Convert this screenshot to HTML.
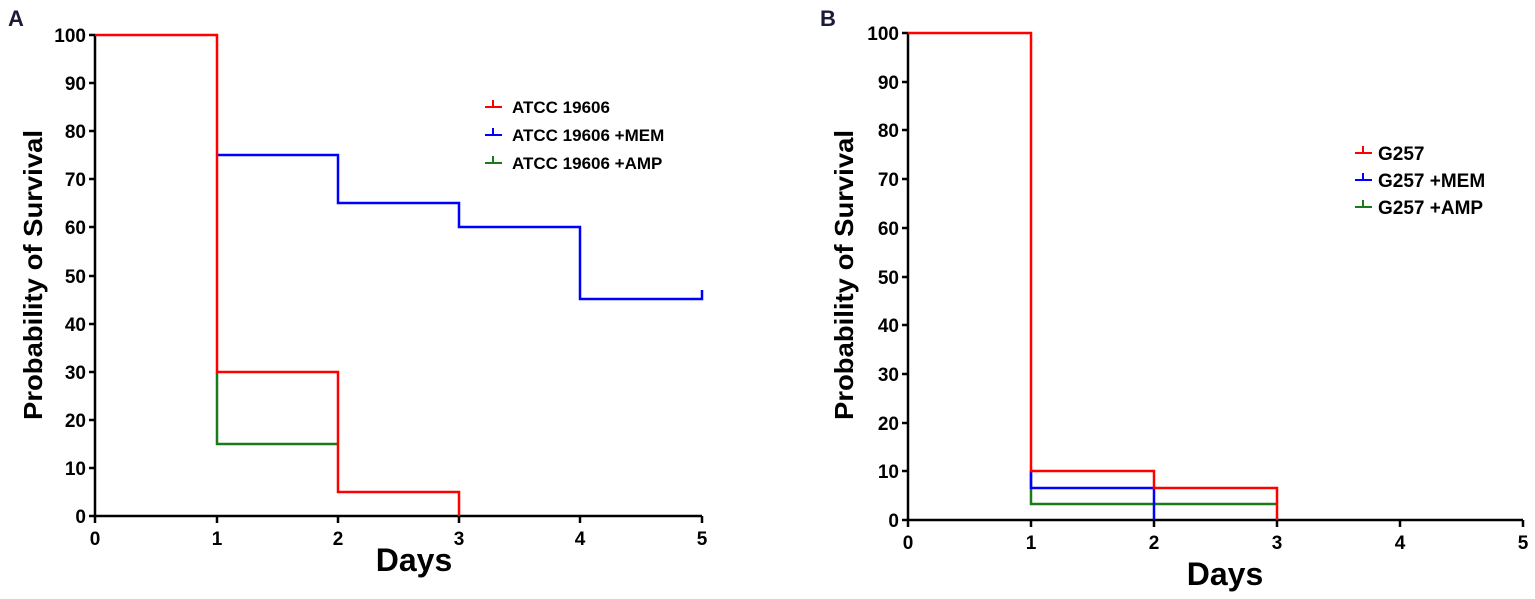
<!DOCTYPE html>
<html><head><meta charset="utf-8"><style>
html,body{margin:0;padding:0;background:#fff;}
svg{display:block;font-family:"Liberation Sans",Arial,sans-serif;font-weight:bold;}
</style></head><body>
<svg width="1535" height="599" viewBox="0 0 1535 599" xmlns="http://www.w3.org/2000/svg">
<!-- Panel A -->
<text x="8" y="26" font-size="22" fill="#1a1a3a">A</text>
<g stroke="#000" stroke-width="2.5" fill="none">
<path d="M95,35 V516 H702"/>
<path d="M89,35H95M89,83H95M89,131H95M89,179H95M89,227H95M89,276H95M89,324H95M89,372H95M89,420H95M89,468H95M89,516H95"/>
<path d="M95,516V523M217,516V523M338,516V523M459,516V523M580,516V523M702,516V523"/>
</g>
<g font-size="19" text-anchor="end" fill="#000">
<text x="86" y="42">100</text><text x="86" y="90">90</text><text x="86" y="138">80</text><text x="86" y="186">70</text><text x="86" y="234">60</text><text x="86" y="283">50</text><text x="86" y="331">40</text><text x="86" y="379">30</text><text x="86" y="427">20</text><text x="86" y="475">10</text><text x="86" y="523">0</text>
</g>
<g font-size="19" text-anchor="middle" fill="#000">
<text x="95" y="545">0</text><text x="217" y="545">1</text><text x="338" y="545">2</text><text x="459" y="545">3</text><text x="580" y="545">4</text><text x="702" y="545">5</text>
</g>
<text x="414" y="571" font-size="32" text-anchor="middle" fill="#000">Days</text>
<text transform="translate(42,275) rotate(-90)" font-size="26" text-anchor="middle" fill="#000" textLength="290" lengthAdjust="spacingAndGlyphs">Probability of Survival</text>
<g fill="none" stroke-width="2.5">
<path d="M217,372V444H338" stroke="#1a7a1a"/>
<path d="M217,155H338V203H459V227H580V299H702V290" stroke="#0000ff"/>
<path d="M95,35H217V372H338V492H459V516" stroke="#ff0000"/>
</g>
<g stroke-width="2" fill="none">
<path d="M485,107H502M493,107V100" stroke="#ff0000"/>
<path d="M485,135H502M493,135V128" stroke="#0000ff"/>
<path d="M485,163H502M493,163V156" stroke="#1a7a1a"/>
</g>
<g font-size="17" fill="#000">
<text x="512" y="113">ATCC 19606</text><text x="512" y="141">ATCC 19606 +MEM</text><text x="512" y="169">ATCC 19606 +AMP</text>
</g>
<!-- Panel B -->
<text x="820" y="26" font-size="22" fill="#1a1a3a">B</text>
<g stroke="#000" stroke-width="2.5" fill="none">
<path d="M908,33 V520 H1523"/>
<path d="M902,33H908M902,82H908M902,130H908M902,179H908M902,228H908M902,277H908M902,325H908M902,374H908M902,423H908M902,471H908M902,520H908"/>
<path d="M908,520V527M1031,520V527M1154,520V527M1277,520V527M1400,520V527M1523,520V527"/>
</g>
<g font-size="19" text-anchor="end" fill="#000">
<text x="899" y="40">100</text><text x="899" y="89">90</text><text x="899" y="137">80</text><text x="899" y="186">70</text><text x="899" y="235">60</text><text x="899" y="284">50</text><text x="899" y="332">40</text><text x="899" y="381">30</text><text x="899" y="430">20</text><text x="899" y="478">10</text><text x="899" y="527">0</text>
</g>
<g font-size="19" text-anchor="middle" fill="#000">
<text x="908" y="549">0</text><text x="1031" y="549">1</text><text x="1154" y="549">2</text><text x="1277" y="549">3</text><text x="1400" y="549">4</text><text x="1523" y="549">5</text>
</g>
<text x="1225" y="585" font-size="32" text-anchor="middle" fill="#000">Days</text>
<text transform="translate(853,275) rotate(-90)" font-size="26" text-anchor="middle" fill="#000" textLength="290" lengthAdjust="spacingAndGlyphs">Probability of Survival</text>
<g fill="none" stroke-width="2.5">
<path d="M1031,471V504H1277" stroke="#1a7a1a"/>
<path d="M1031,471V488H1154V520" stroke="#0000ff"/>
<path d="M908,33H1031V471H1154V488H1277V520" stroke="#ff0000"/>
</g>
<g stroke-width="2" fill="none">
<path d="M1355,153H1372M1363,153V146" stroke="#ff0000"/>
<path d="M1355,180H1372M1363,180V173" stroke="#0000ff"/>
<path d="M1355,207H1372M1363,207V200" stroke="#1a7a1a"/>
</g>
<g font-size="19" fill="#000">
<text x="1378" y="160">G257</text><text x="1378" y="187">G257 +MEM</text><text x="1378" y="214">G257 +AMP</text>
</g>
</svg>
</body></html>
